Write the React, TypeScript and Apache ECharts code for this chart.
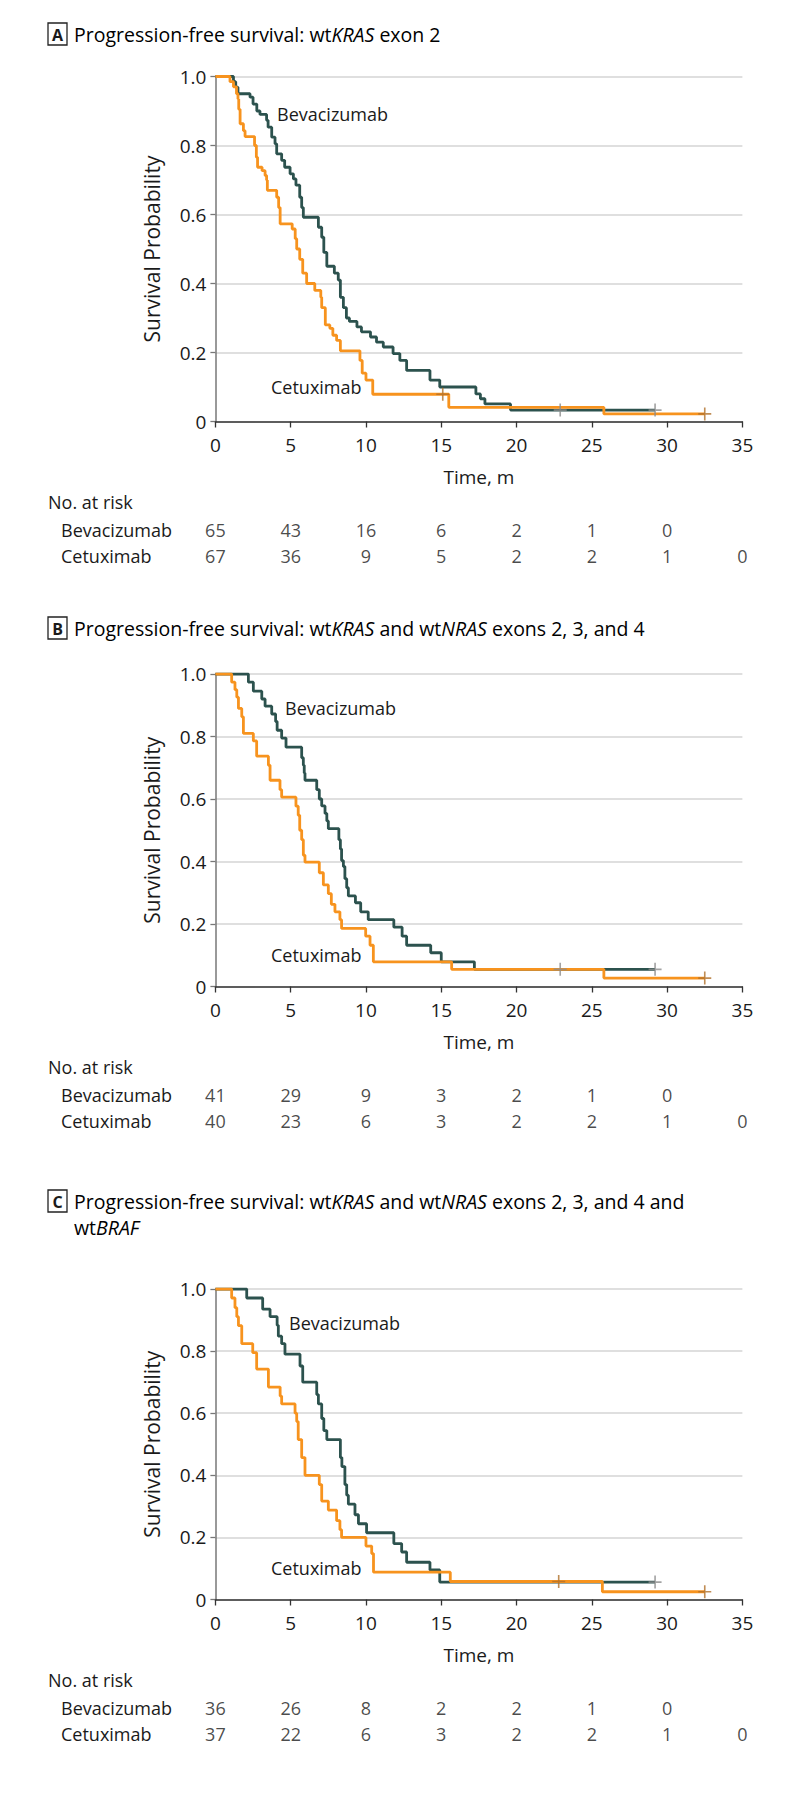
import React, { useEffect, useRef } from "react";
import * as echarts from "echarts";

const FONT = "'Open Sans', 'Noto Sans', 'DejaVu Sans', sans-serif";
const TEAL = "#2c524e";
const ORANGE = "#f7931e";
const TEAL_CENSOR = "#8c8c8c";
const ORANGE_CENSOR = "#b0702a";
const TEXT = "#1a1a1a";

const W = 794;
const H = 1797;
const GRID_LEFT = 215.4;
const GRID_RIGHT = 51.6;

// ---------- data ----------
const xTicks = [0, 5, 10, 15, 20, 25, 30, 35];
const yTicks = [0, 0.2, 0.4, 0.6, 0.8, 1.0];
const riskTimes = [0, 5, 10, 15, 20, 25, 30, 35];

const riskBevA = [65, 43, 16, 6, 2, 1, 0];
const riskCetA = [67, 36, 9, 5, 2, 2, 1, 0];
const riskBevB = [41, 29, 9, 3, 2, 1, 0];
const riskCetB = [40, 23, 6, 3, 2, 2, 1, 0];
const riskBevC = [36, 26, 8, 2, 2, 1, 0];
const riskCetC = [37, 22, 6, 3, 2, 2, 1, 0];

// Kaplan-Meier steps: [time (months), survival after the step]
const bevA: [number, number][] = [
  [0, 1], [1.2, 0.985], [1.35, 0.969], [1.5, 0.95], [2.3, 0.94], [2.5, 0.92], [2.75, 0.9],
  [2.96, 0.89], [3.4, 0.873], [3.5, 0.853], [3.74, 0.824], [3.96, 0.805], [4.07, 0.776],
  [4.4, 0.757], [4.6, 0.737], [4.96, 0.718], [5.18, 0.703], [5.35, 0.685], [5.6, 0.65],
  [5.73, 0.62], [5.84, 0.592], [6.84, 0.563], [7.06, 0.534], [7.2, 0.49], [7.4, 0.45],
  [7.9, 0.43], [8.16, 0.41], [8.3, 0.36], [8.5, 0.33], [8.7, 0.3], [8.9, 0.29],
  [9.4, 0.274], [9.7, 0.26], [10.3, 0.245], [10.7, 0.23], [11.15, 0.216], [11.8, 0.197],
  [12.25, 0.177], [12.7, 0.148], [14.25, 0.12], [14.9, 0.1], [17.3, 0.08], [17.6, 0.066],
  [17.9, 0.051], [19.6, 0.033], [29.2, 0.033],
];
const cetA: [number, number][] = [
  [0, 1], [0.97, 0.985], [1.2, 0.97], [1.4, 0.95], [1.5, 0.935], [1.55, 0.905], [1.64, 0.863],
  [1.86, 0.843], [1.97, 0.826], [2.6, 0.8], [2.72, 0.766], [2.8, 0.737], [3.1, 0.727],
  [3.3, 0.713], [3.4, 0.7], [3.45, 0.67], [4.07, 0.65], [4.2, 0.62], [4.3, 0.573],
  [5.1, 0.558], [5.3, 0.53], [5.4, 0.5], [5.6, 0.47], [5.8, 0.43], [6.06, 0.4], [6.6, 0.38],
  [7.0, 0.36], [7.06, 0.33], [7.3, 0.28], [7.6, 0.27], [7.8, 0.25], [8.05, 0.235],
  [8.3, 0.205], [9.6, 0.177], [9.75, 0.14], [10.0, 0.12], [10.45, 0.079], [15.5, 0.041],
  [25.8, 0.022], [32.5, 0.022],
];
const bevB: [number, number][] = [
  [0, 1], [2.19, 0.974], [2.52, 0.945], [3.08, 0.92], [3.3, 0.897], [3.74, 0.872], [4.0, 0.848],
  [4.1, 0.82], [4.4, 0.795], [4.69, 0.766], [5.73, 0.732], [5.84, 0.708], [5.9, 0.683],
  [5.95, 0.66], [6.73, 0.63], [6.9, 0.6], [7.06, 0.578], [7.28, 0.554], [7.4, 0.53],
  [7.5, 0.505], [8.2, 0.47], [8.3, 0.44], [8.38, 0.403], [8.5, 0.384], [8.6, 0.345],
  [8.72, 0.316], [8.83, 0.29], [9.3, 0.268], [9.65, 0.239], [10.15, 0.214], [11.85, 0.19],
  [12.4, 0.161], [12.7, 0.132], [14.3, 0.108], [15.0, 0.079], [17.2, 0.055], [29.2, 0.055],
];
const cetB: [number, number][] = [
  [0, 1], [1.08, 0.974], [1.3, 0.95], [1.42, 0.926], [1.53, 0.89], [1.75, 0.863], [1.86, 0.81],
  [2.52, 0.786], [2.74, 0.737], [3.52, 0.708], [3.63, 0.66], [4.29, 0.63], [4.4, 0.606],
  [5.35, 0.577], [5.5, 0.548], [5.6, 0.5], [5.73, 0.47], [5.84, 0.42], [5.95, 0.398],
  [6.9, 0.364], [7.17, 0.325], [7.5, 0.297], [7.7, 0.263], [7.94, 0.239], [8.27, 0.214],
  [8.38, 0.186], [9.98, 0.161], [10.27, 0.132], [10.49, 0.079], [15.69, 0.055],
  [25.8, 0.027], [32.5, 0.027],
];
const bevC: [number, number][] = [
  [0, 1], [2.08, 0.971], [3.14, 0.935], [3.63, 0.911], [4.1, 0.883], [4.18, 0.848],
  [4.4, 0.824], [4.62, 0.79], [5.62, 0.752], [5.8, 0.7], [6.73, 0.66], [6.84, 0.63],
  [7.06, 0.583], [7.2, 0.544], [7.4, 0.515], [8.3, 0.457], [8.4, 0.428], [8.6, 0.37],
  [8.72, 0.336], [8.83, 0.307], [9.27, 0.273], [9.5, 0.244], [10.04, 0.215], [11.85, 0.18],
  [12.37, 0.153], [12.7, 0.12], [14.25, 0.095], [14.9, 0.056], [29.2, 0.056],
];
const cetC: [number, number][] = [
  [0, 1], [1.08, 0.971], [1.3, 0.94], [1.42, 0.911], [1.53, 0.882], [1.75, 0.824],
  [2.48, 0.795], [2.74, 0.742], [3.52, 0.684], [4.3, 0.655], [4.4, 0.63], [5.29, 0.6],
  [5.4, 0.573], [5.5, 0.515], [5.73, 0.457], [5.95, 0.4], [6.9, 0.37], [7.06, 0.317],
  [7.5, 0.288], [8.05, 0.254], [8.27, 0.225], [8.38, 0.2], [10.0, 0.172], [10.38, 0.148],
  [10.5, 0.088], [15.6, 0.058], [25.7, 0.025], [32.5, 0.025],
];

// censored observations: [time, survival]
const censBevA: [number, number][] = [[22.9, 0.033], [29.2, 0.033]];
const censCetA: [number, number][] = [[15.1, 0.079], [32.5, 0.022]];
const censBevB: [number, number][] = [[22.9, 0.055], [29.2, 0.055]];
const censCetB: [number, number][] = [[32.5, 0.027]];
const censBevC: [number, number][] = [[29.2, 0.056]];
const censCetC: [number, number][] = [[22.8, 0.058], [32.5, 0.025]];

// ---------- layout ----------
type Panel = {
  letter: string;
  titleLines: string[];
  titleY: number[];
  top: number;
  height: number;
  bev: [number, number][];
  cet: [number, number][];
  censBev: [number, number][];
  censCet: [number, number][];
  riskBev: number[];
  riskCet: number[];
  bevLabelX: number;
  cetLabelX: number;
};

const PANELS: Panel[] = [
  {
    letter: "A",
    titleLines: ["{n|Progression-free survival: wt}{i|KRAS}{n| exon 2}"],
    titleY: [34],
    top: 76.5,
    height: 345,
    bev: bevA, cet: cetA, censBev: censBevA, censCet: censCetA,
    riskBev: riskBevA, riskCet: riskCetA,
    bevLabelX: 277, cetLabelX: 271,
  },
  {
    letter: "B",
    titleLines: ["{n|Progression-free survival: wt}{i|KRAS}{n| and wt}{i|NRAS}{n| exons 2, 3, and 4}"],
    titleY: [628],
    top: 674,
    height: 312.5,
    bev: bevB, cet: cetB, censBev: censBevB, censCet: censCetB,
    riskBev: riskBevB, riskCet: riskCetB,
    bevLabelX: 285, cetLabelX: 271,
  },
  {
    letter: "C",
    titleLines: [
      "{n|Progression-free survival: wt}{i|KRAS}{n| and wt}{i|NRAS}{n| exons 2, 3, and 4 and}",
      "{n|wt}{i|BRAF}",
    ],
    titleY: [1201, 1227],
    top: 1289,
    height: 310.5,
    bev: bevC, cet: cetC, censBev: censBevC, censCet: censCetC,
    riskBev: riskBevC, riskCet: riskCetC,
    bevLabelX: 289, cetLabelX: 271,
  },
];

const PLUS = "path://M5.25,0L6.75,0L6.75,12L5.25,12ZM0,5.25L12,5.25L12,6.75L0,6.75Z";

function buildOption() {
  const grid: any[] = [];
  const xAxis: any[] = [];
  const yAxis: any[] = [];
  const series: any[] = [];
  const graphic: any[] = [];

  const rich = {
    n: { fontFamily: FONT, fontSize: 19.5, color: TEXT },
    i: { fontFamily: FONT, fontSize: 19.5, color: TEXT, fontStyle: "italic" },
  };

  PANELS.forEach((p, k) => {
    const zero = p.top + p.height;
    const gMain = 2 * k;
    const gRisk = 2 * k + 1;

    grid.push({ left: GRID_LEFT, right: GRID_RIGHT, top: p.top, height: p.height });
    grid.push({ left: GRID_LEFT, right: GRID_RIGHT, top: zero + 108.5, height: 26 });

    xAxis.push({
      gridIndex: gMain,
      type: "value",
      min: xTicks[0],
      max: xTicks[xTicks.length - 1],
      interval: 5,
      axisLine: { show: true, lineStyle: { color: "#333", width: 1.5 } },
      axisTick: { show: true, length: 6, lineStyle: { color: "#333", width: 1.3 } },
      axisLabel: { fontFamily: FONT, fontSize: 19, color: TEXT, margin: 14 },
      splitLine: { show: false },
      name: "Time, m",
      nameLocation: "middle",
      nameGap: 46,
      nameTextStyle: { fontFamily: FONT, fontSize: 19, color: TEXT },
    });
    xAxis.push({ gridIndex: gRisk, type: "value", min: 0, max: 35, show: false });

    yAxis.push({
      gridIndex: gMain,
      type: "value",
      min: yTicks[0],
      max: yTicks[yTicks.length - 1],
      interval: 0.2,
      axisLine: { show: true, lineStyle: { color: "#777", width: 1.5 } },
      axisTick: { show: true, length: 5, lineStyle: { color: "#777", width: 1.3 } },
      axisLabel: {
        fontFamily: FONT,
        fontSize: 19,
        color: TEXT,
        margin: 9,
        formatter: (v: number) => (Math.abs(v) < 1e-9 ? "0" : v.toFixed(1)),
      },
      splitLine: { show: true, lineStyle: { color: "#d5d5d5", width: 1.5 } },
      name: "Survival Probability",
      nameLocation: "middle",
      nameGap: 53,
      nameTextStyle: { fontFamily: FONT, fontSize: 21, color: TEXT },
    });
    yAxis.push({ gridIndex: gRisk, type: "value", min: 0, max: 1, show: false });

    series.push({
      type: "line",
      xAxisIndex: gMain,
      yAxisIndex: gMain,
      step: "end",
      symbol: "none",
      data: p.bev,
      lineStyle: { color: TEAL, width: 2.8 },
      z: 3,
    });
    series.push({
      type: "line",
      xAxisIndex: gMain,
      yAxisIndex: gMain,
      step: "end",
      symbol: "none",
      data: p.cet,
      lineStyle: { color: ORANGE, width: 2.8 },
      z: 4,
    });
    series.push({
      type: "scatter",
      xAxisIndex: gMain,
      yAxisIndex: gMain,
      symbol: PLUS,
      symbolSize: 13,
      data: p.censBev,
      itemStyle: { color: TEAL_CENSOR },
      z: 5,
    });
    series.push({
      type: "scatter",
      xAxisIndex: gMain,
      yAxisIndex: gMain,
      symbol: PLUS,
      symbolSize: 13,
      data: p.censCet,
      itemStyle: { color: ORANGE_CENSOR },
      z: 5,
    });

    const riskLabel = {
      show: true,
      position: "inside",
      fontFamily: FONT,
      fontSize: 18,
      color: TEXT,
      formatter: (q: any) => String(q.value[2]),
    };
    series.push({
      type: "scatter",
      xAxisIndex: gRisk,
      yAxisIndex: gRisk,
      symbolSize: 1,
      itemStyle: { color: "rgba(0,0,0,0)" },
      data: p.riskBev.map((n, i) => [riskTimes[i], 1, n]),
      label: riskLabel,
      clip: false,
    });
    series.push({
      type: "scatter",
      xAxisIndex: gRisk,
      yAxisIndex: gRisk,
      symbolSize: 1,
      itemStyle: { color: "rgba(0,0,0,0)" },
      data: p.riskCet.map((n, i) => [riskTimes[i], 0, n]),
      label: riskLabel,
      clip: false,
    });

    // panel letter box
    graphic.push({
      type: "rect",
      shape: { x: 48, y: p.titleY[0] - 11, width: 19, height: 22 },
      style: { fill: "#fff", stroke: "#222", lineWidth: 1.3 },
    });
    graphic.push({
      type: "text",
      x: 57.5,
      y: p.titleY[0] + 0.5,
      style: {
        text: p.letter,
        fontFamily: FONT,
        fontSize: 16,
        fontWeight: "bold",
        fill: TEXT,
        align: "center",
        verticalAlign: "middle",
      },
    });
    p.titleLines.forEach((t, i) => {
      graphic.push({
        type: "text",
        x: 74,
        y: p.titleY[i],
        style: { text: t, rich, align: "left", verticalAlign: "middle" },
      });
    });

    // risk table labels
    graphic.push({
      type: "text",
      x: 48,
      y: zero + 80,
      style: { text: "No. at risk", fontFamily: FONT, fontSize: 18, fill: TEXT, verticalAlign: "middle" },
    });
    graphic.push({
      type: "text",
      x: 61,
      y: zero + 108.5,
      style: { text: "Bevacizumab", fontFamily: FONT, fontSize: 18, fill: TEXT, verticalAlign: "middle" },
    });
    graphic.push({
      type: "text",
      x: 61,
      y: zero + 134.5,
      style: { text: "Cetuximab", fontFamily: FONT, fontSize: 18, fill: TEXT, verticalAlign: "middle" },
    });

    // curve labels (placed at survival 0.89 and 0.10 of each panel)
    graphic.push({
      type: "text",
      x: p.bevLabelX,
      y: p.top + (1 - 0.89) * p.height,
      style: { text: "Bevacizumab", fontFamily: FONT, fontSize: 18, fill: TEXT, verticalAlign: "middle" },
    });
    graphic.push({
      type: "text",
      x: p.cetLabelX,
      y: p.top + (1 - 0.1) * p.height,
      style: { text: "Cetuximab", fontFamily: FONT, fontSize: 18, fill: TEXT, verticalAlign: "middle" },
    });
  });

  return {
    animation: false,
    backgroundColor: "#fff",
    grid,
    xAxis,
    yAxis,
    series,
    graphic,
  };
}

export default function App() {
  const ref = useRef<HTMLDivElement>(null);
  useEffect(() => {
    document.body.style.margin = "0";
    const chart = echarts.init(ref.current as HTMLDivElement, null, { renderer: "svg" });
    chart.setOption(buildOption() as any);
    return () => chart.dispose();
  }, []);
  return <div ref={ref} style={{ width: W, height: H }} />;
}
